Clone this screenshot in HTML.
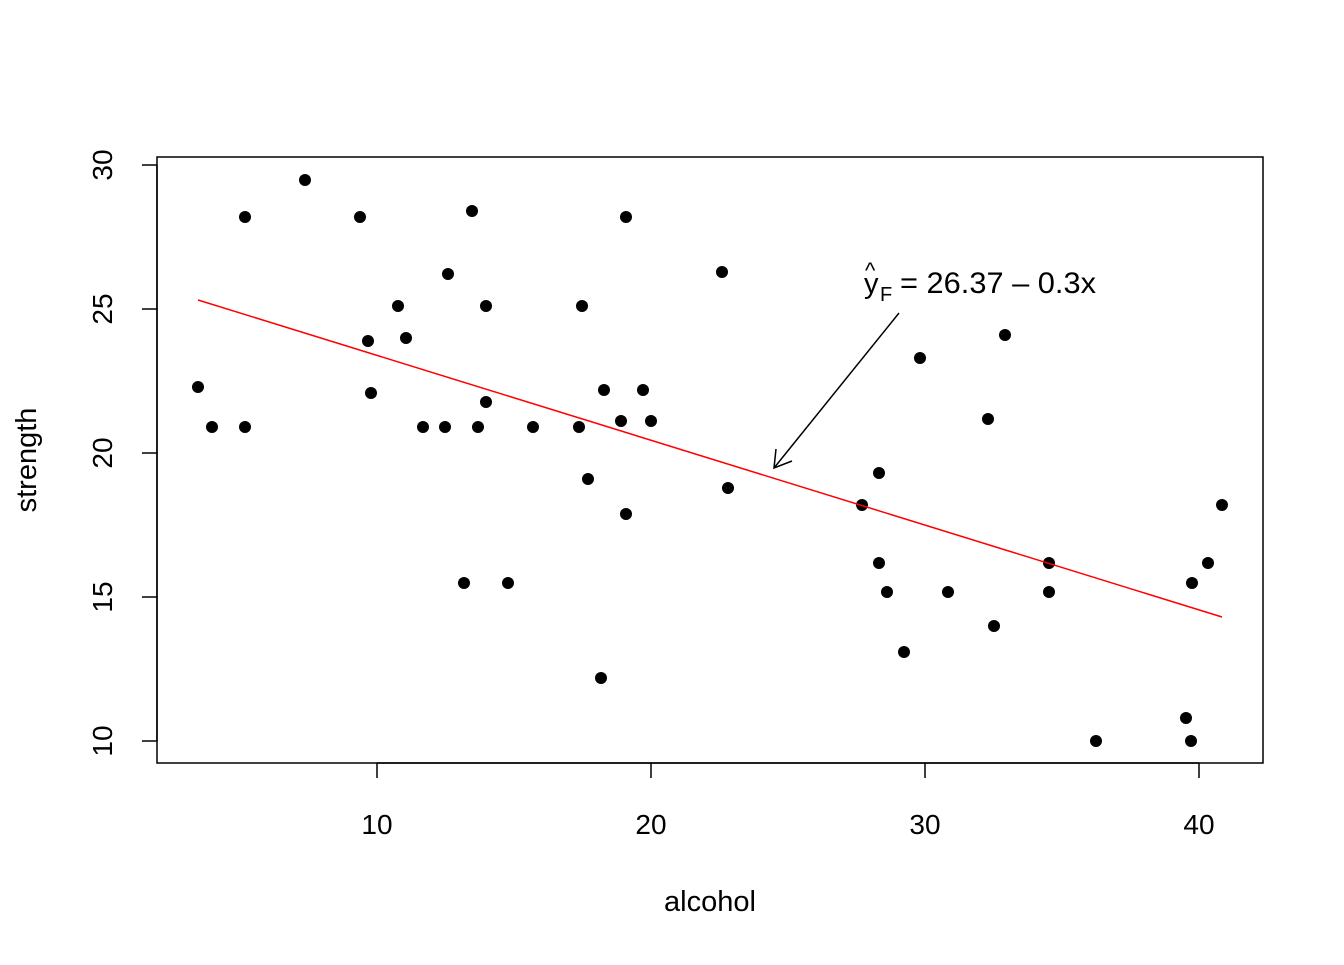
<!DOCTYPE html>
<html><head><style>body{margin:0;background:#fff}</style></head><body>
<svg width="1344" height="960" xmlns="http://www.w3.org/2000/svg" font-family="Liberation Sans, Arial, sans-serif">
<rect width="1344" height="960" fill="#fff"/>
<rect x="157" y="157" width="1106" height="606" fill="none" stroke="#000" stroke-width="1.5"/>
<g stroke="#000" stroke-width="1.5">
<line x1="377" y1="763" x2="1199" y2="763"/>
<line x1="377" y1="763" x2="377" y2="778"/><line x1="651" y1="763" x2="651" y2="778"/><line x1="925" y1="763" x2="925" y2="778"/><line x1="1199" y1="763" x2="1199" y2="778"/>
<line x1="157" y1="165" x2="157" y2="741"/>
<line x1="142" y1="165" x2="157" y2="165"/><line x1="142" y1="309" x2="157" y2="309"/><line x1="142" y1="453" x2="157" y2="453"/><line x1="142" y1="597" x2="157" y2="597"/><line x1="142" y1="741" x2="157" y2="741"/>
</g>
<g font-size="28" text-anchor="middle" fill="#000">
<text x="377" y="834">10</text><text x="651" y="834">20</text><text x="925" y="834">30</text><text x="1199" y="834">40</text>
<text transform="translate(112,165) rotate(-90)">30</text>
<text transform="translate(112,309) rotate(-90)">25</text>
<text transform="translate(112,453) rotate(-90)">20</text>
<text transform="translate(112,597) rotate(-90)">15</text>
<text transform="translate(112,741) rotate(-90)">10</text>
<text x="710" y="911" font-size="29">alcohol</text>
<text transform="translate(36,460) rotate(-90)" font-size="29">strength</text>
</g>
<g fill="#000">
<circle cx="198" cy="387" r="6"/><circle cx="212" cy="427" r="6"/><circle cx="245" cy="217" r="6"/><circle cx="245" cy="427" r="6"/><circle cx="305" cy="180" r="6"/><circle cx="360" cy="217" r="6"/><circle cx="368" cy="341" r="6"/><circle cx="371" cy="393" r="6"/><circle cx="398" cy="306" r="6"/><circle cx="406" cy="338" r="6"/><circle cx="423" cy="427" r="6"/><circle cx="445" cy="427" r="6"/><circle cx="448" cy="274" r="6"/><circle cx="464" cy="583" r="6"/><circle cx="472" cy="211" r="6"/><circle cx="478" cy="427" r="6"/><circle cx="486" cy="306" r="6"/><circle cx="486" cy="402" r="6"/><circle cx="508" cy="583" r="6"/><circle cx="533" cy="427" r="6"/><circle cx="579" cy="427" r="6"/><circle cx="582" cy="306" r="6"/><circle cx="588" cy="479" r="6"/><circle cx="601" cy="678" r="6"/><circle cx="604" cy="390" r="6"/><circle cx="621" cy="421" r="6"/><circle cx="626" cy="217" r="6"/><circle cx="626" cy="514" r="6"/><circle cx="643" cy="390" r="6"/><circle cx="651" cy="421" r="6"/><circle cx="722" cy="272" r="6"/><circle cx="728" cy="488" r="6"/><circle cx="862" cy="505" r="6"/><circle cx="879" cy="473" r="6"/><circle cx="879" cy="563" r="6"/><circle cx="887" cy="592" r="6"/><circle cx="904" cy="652" r="6"/><circle cx="920" cy="358" r="6"/><circle cx="948" cy="592" r="6"/><circle cx="988" cy="419" r="6"/><circle cx="994" cy="626" r="6"/><circle cx="1005" cy="335" r="6"/><circle cx="1049" cy="563" r="6"/><circle cx="1049" cy="592" r="6"/><circle cx="1096" cy="741" r="6"/><circle cx="1186" cy="718" r="6"/><circle cx="1191" cy="741" r="6"/><circle cx="1192" cy="583" r="6"/><circle cx="1208" cy="563" r="6"/><circle cx="1222" cy="505" r="6"/>
</g>
<line x1="198" y1="300" x2="1222" y2="617" stroke="#f00" stroke-width="1.5"/>
<g stroke="#000" stroke-width="1.5" fill="none">
<line x1="899" y1="313" x2="774" y2="468"/>
<polyline points="776,449 774,468 792,461"/>
</g>
<g font-size="29" fill="#000">
<text x="864" y="293">y</text>
<text x="865" y="278" font-size="22">^</text>
<text x="880" y="301" font-size="20">F</text>
<text x="900" y="293" font-size="30" textLength="196" lengthAdjust="spacingAndGlyphs">= 26.37 – 0.3x</text>
</g>
</svg>
</body></html>
